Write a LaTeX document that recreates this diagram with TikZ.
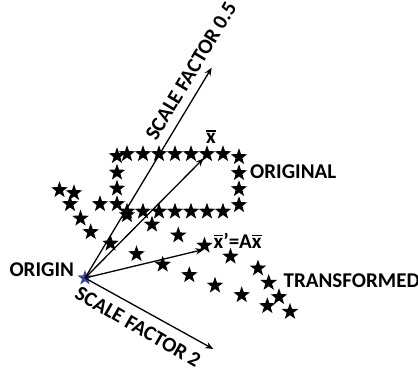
\documentclass[tikz,border=0pt]{standalone}
\usepackage{fontspec}
\setmainfont{Carlito}
\usetikzlibrary{shapes.geometric,arrows.meta}
\definecolor{blu}{RGB}{58,72,158}
\tikzset{
  stella/.style = {star, star points=5, star point ratio=2.5, fill=black, inner sep=0, minimum size=17.5pt},
  orig/.style   = {stella, fill=blu, minimum size=16pt},
  vett/.style   = {line width=1.3pt, -{Stealth[length=8pt,width=6.5pt]}},
  et/.style     = {font=\fontsize{21}{24}\selectfont\bfseries, inner sep=0}
}
\newcommand\xbar{\vbox{\hrule height 1.8pt\kern 1.5pt\hbox{x}}}

\begin{document}
\begin{tikzpicture}[x=1pt,y=-1pt]

  \useasboundingbox (0,0) rectangle (418,372);

  % stelle originali
  \foreach \x/\y [count=\i] in {117/156,127/154,143/154,159/154,175/154,191/154,207/154,223/154,
      239/157,239/173,239/189,239/205,
      117/172.5,117/188.5,117/204,
      127/211.5,143/211.5,159/211.5,175/211.5,191/211.5,207/211.5,223/211.5}
    \node[stella] (o\i) at (\x,\y) {};

  % stelle trasformate
  \foreach \x/\y [count=\i] in {59.5/190,74/193,70/204,100/204,80.5/218.5,90.7/232,110.5/243.5,
      127/215,152/224.5,178.3/235.3,204.5/245.5,136.5/254,162.7/264.5,189.3/275,215/285.5,
      230.5/256.5,258/268.3,268.7/282.7,241.7/295,279/297,267.3/306,290/311.7}
    \node[stella] (t\i) at (\x,\y) {};

  % origine e vettori
  \node[orig] (O) at (85,278) {};
  \coordinate (mezzo) at (211.7,67.7);
  \coordinate (xx)    at (203.5,158.5);
  \coordinate (xt)    at (203.5,249.5);
  \coordinate (doppio) at (213.3,349);

  \draw[vett] (O.center) -- (mezzo);
  \draw[vett] (O.center) -- (xx);
  \draw[vett] (O.center) -- (xt);
  \draw[vett] (O.center) -- (doppio);

  % etichette
  \node[et, anchor=base west] (lorig) at (9.3,276.7) {ORIGIN};
  \node[et, anchor=base west] (lor)   at (250,178) {ORIGINAL};
  \node[et, anchor=base west] (ltr)   at (283.5,287.5) {TRANSFORMED};
  \node[et, anchor=base]      (lx)    at (211,143.5) {\xbar};
  \node[et, anchor=base west] (lxt)   at (213.5,248) {\xbar’=A\xbar};
  \node[et, rotate=59]  (s1) at (191,71) {SCALE FACTOR 0.5};
  \node[et, rotate=-30] (s2) at (138,327) {SCALE FACTOR 2};

\end{tikzpicture}
\end{document}
